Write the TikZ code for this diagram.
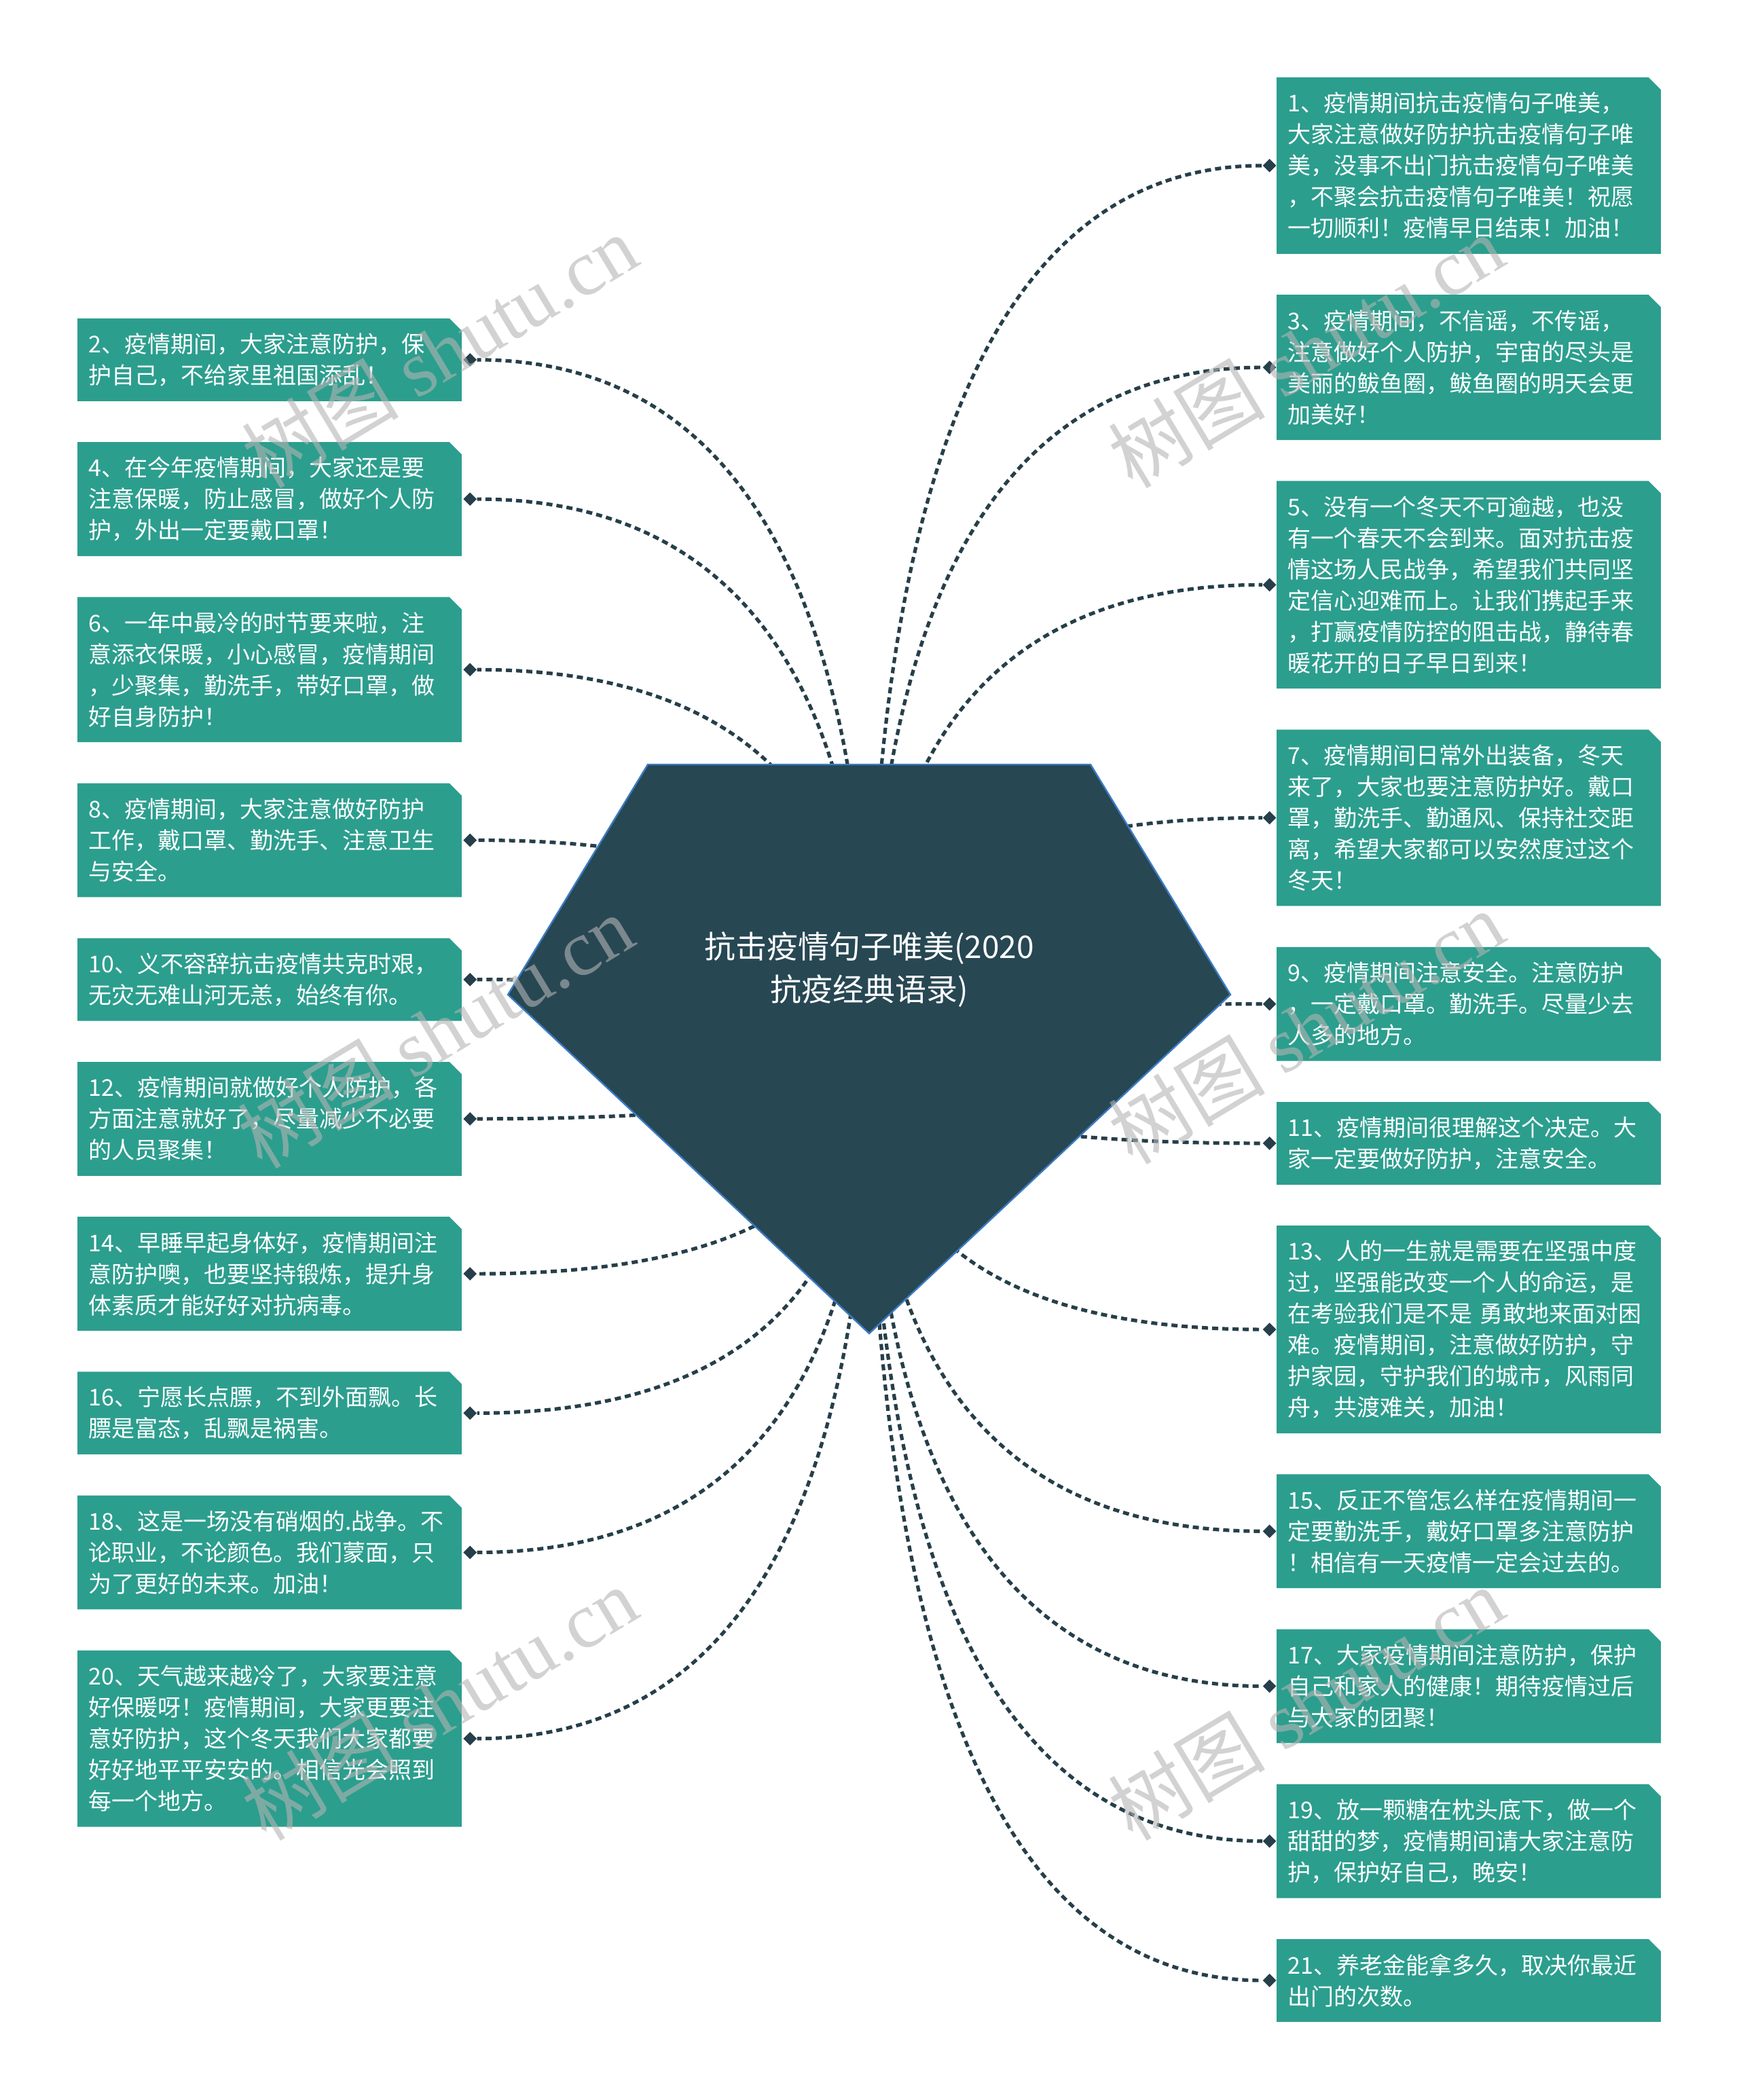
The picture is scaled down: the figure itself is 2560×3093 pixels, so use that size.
\documentclass[tikz,border=0pt]{standalone}
\usepackage{fontspec}
\setmainfont{Noto Sans CJK SC}
\newfontfamily\latinserif{Liberation Serif}
\usetikzlibrary{positioning,shapes.geometric,calc}
\definecolor{rootfill}{HTML}{274753}
\definecolor{rootedge}{HTML}{3B7BC3}
\definecolor{quotefill}{HTML}{2C9E8E}
\definecolor{linkdark}{HTML}{263F4A}
\definecolor{markgray}{RGB}{180,180,180}
\pgfdeclarelayer{background}
\pgfsetlayers{background,main}
\tikzset{
  quote/.style={rectangle,text=white,font=\fontsize{17}{23}\selectfont,
    text width=266.5pt,align=left,inner xsep=8pt,inner ysep=0pt},
  lines/.style={minimum height={#1*23pt+14.5pt}},
  tip/.style={diamond,fill=linkdark,inner sep=0pt,minimum width=10pt,minimum height=10pt},
  link/.style={draw=linkdark,line width=2.6pt,dash pattern=on 4.5pt off 3pt,
    to path={.. controls ($(\tikztostart)!.667!(\tikztostart |- \tikztotarget)$)
      and ($(\tikztotarget)!.667!(\tikztostart |- \tikztotarget)$) .. (\tikztotarget)}},
  root shape/.style={fill=rootfill,draw=rootedge,line width=1.2pt},
  root text/.style={text=white,font=\fontsize{23}{31.5}\selectfont,align=center},
  watermark/.style={text=markgray,text opacity=.6,rotate=31,
    font=\fontsize{58}{58}\selectfont}
}

\begin{document}
\begin{tikzpicture}[x=0.5pt,y=-0.5pt]
  \useasboundingbox (0,0) rectangle (2560,3093);
  \coordinate (hub) at (1280,1545);

  % right column, odd numbers
  \node[quote,lines=5,anchor=north west] (q1) at (1880,114)
    {1、疫情期间抗击疫情句子唯美，\\大家注意做好防护抗击疫情句子唯\\美，没事不出门抗击疫情句子唯美\\，不聚会抗击疫情句子唯美！祝愿\\一切顺利！疫情早日结束！加油！};
  \node[quote,lines=4,below=30.2pt of q1] (q3)
    {3、疫情期间，不信谣，不传谣，\\注意做好个人防护，宇宙的尽头是\\美丽的鲅鱼圈，鲅鱼圈的明天会更\\加美好！};
  \node[quote,lines=6,below=30.2pt of q3] (q5)
    {5、没有一个冬天不可逾越，也没\\有一个春天不会到来。面对抗击疫\\情这场人民战争，希望我们共同坚\\定信心迎难而上。让我们携起手来\\，打赢疫情防控的阻击战，静待春\\暖花开的日子早日到来！};
  \node[quote,lines=5,below=30.2pt of q5] (q7)
    {7、疫情期间日常外出装备，冬天\\来了，大家也要注意防护好。戴口\\罩，勤洗手、勤通风、保持社交距\\离，希望大家都可以安然度过这个\\冬天！};
  \node[quote,lines=3,below=30.2pt of q7] (q9)
    {9、疫情期间注意安全。注意防护\\，一定戴口罩。勤洗手。尽量少去\\人多的地方。};
  \node[quote,lines=2,below=30.2pt of q9] (q11)
    {11、疫情期间很理解这个决定。大\\家一定要做好防护，注意安全。};
  \node[quote,lines=6,below=30.2pt of q11] (q13)
    {13、人的一生就是需要在坚强中度\\过，坚强能改变一个人的命运，是\\在考验我们是不是 勇敢地来面对困\\难。疫情期间，注意做好防护，守\\护家园，守护我们的城市，风雨同\\舟，共渡难关，加油！};
  \node[quote,lines=3,below=30.2pt of q13] (q15)
    {15、反正不管怎么样在疫情期间一\\定要勤洗手，戴好口罩多注意防护\\！相信有一天疫情一定会过去的。};
  \node[quote,lines=3,below=30.2pt of q15] (q17)
    {17、大家疫情期间注意防护，保护\\自己和家人的健康！期待疫情过后\\与大家的团聚！};
  \node[quote,lines=3,below=30.2pt of q17] (q19)
    {19、放一颗糖在枕头底下，做一个\\甜甜的梦，疫情期间请大家注意防\\护，保护好自己，晚安！};
  \node[quote,lines=2,below=30.2pt of q19] (q21)
    {21、养老金能拿多久，取决你最近\\出门的次数。};

  % left column, even numbers
  \node[quote,lines=2,anchor=north west] (q2) at (114,469)
    {2、疫情期间，大家注意防护，保\\护自己，不给家里祖国添乱！};
  \node[quote,lines=3,below=30.2pt of q2] (q4)
    {4、在今年疫情期间，大家还是要\\注意保暖，防止感冒，做好个人防\\护，外出一定要戴口罩！};
  \node[quote,lines=4,below=30.2pt of q4] (q6)
    {6、一年中最冷的时节要来啦，注\\意添衣保暖，小心感冒，疫情期间\\，少聚集，勤洗手，带好口罩，做\\好自身防护！};
  \node[quote,lines=3,below=30.2pt of q6] (q8)
    {8、疫情期间，大家注意做好防护\\工作，戴口罩、勤洗手、注意卫生\\与安全。};
  \node[quote,lines=2,below=30.2pt of q8] (q10)
    {10、义不容辞抗击疫情共克时艰，\\无灾无难山河无恙，始终有你。};
  \node[quote,lines=3,below=30.2pt of q10] (q12)
    {12、疫情期间就做好个人防护，各\\方面注意就好了，尽量减少不必要\\的人员聚集！};
  \node[quote,lines=3,below=30.2pt of q12] (q14)
    {14、早睡早起身体好，疫情期间注\\意防护噢，也要坚持锻炼，提升身\\体素质才能好好对抗病毒。};
  \node[quote,lines=2,below=30.2pt of q14] (q16)
    {16、宁愿长点膘，不到外面飘。长\\膘是富态，乱飘是祸害。};
  \node[quote,lines=3,below=30.2pt of q16] (q18)
    {18、这是一场没有硝烟的.战争。不\\论职业，不论颜色。我们蒙面，只\\为了更好的未来。加油！};
  \node[quote,lines=5,below=30.2pt of q18] (q20)
    {20、天气越来越冷了，大家要注意\\好保暖呀！疫情期间，大家更要注\\意好防护，这个冬天我们大家都要\\好好地平平安安的。相信光会照到\\每一个地方。};

  % diamond ends
  \foreach \n in {1,3,...,21} \node[tip,left=0pt of q\n] (d\n) {};
  \foreach \n in {2,4,...,20} \node[tip,right=1pt of q\n] (d\n) {};

  % cut-corner boxes and curved links behind everything
  \begin{pgfonlayer}{background}
    \foreach \n in {1,...,21} {
      \fill[quotefill] (q\n.south west) -- (q\n.north west)
        -- ([xshift=-9pt]q\n.north east) -- ([yshift=-9pt]q\n.north east)
        -- (q\n.south east) -- cycle;
      \draw[link] (hub) to (d\n);
    }
  \end{pgfonlayer}

  % central gem
  \draw[root shape] (hub) ++(-326,-419) -- ++(652,0) -- ++(206,339)
    -- ++(-532,499) -- ++(-532,-499) -- cycle;
  \node[root text] (root) at (1280,1428) {抗击疫情句子唯美(2020\\抗疫经典语录)};

  % watermarks
  \node[watermark] (wm1) at (647,517) {树图 {\latinserif shutu.cn}};
  \node[watermark] (wm2) at (1923,517) {树图 {\latinserif shutu.cn}};
  \node[watermark] (wm3) at (641,1519) {树图 {\latinserif shutu.cn}};
  \node[watermark] (wm4) at (1923,1513) {树图 {\latinserif shutu.cn}};
  \node[watermark] (wm5) at (647,2509) {树图 {\latinserif shutu.cn}};
  \node[watermark] (wm6) at (1923,2509) {树图 {\latinserif shutu.cn}};
\end{tikzpicture}
\end{document}
